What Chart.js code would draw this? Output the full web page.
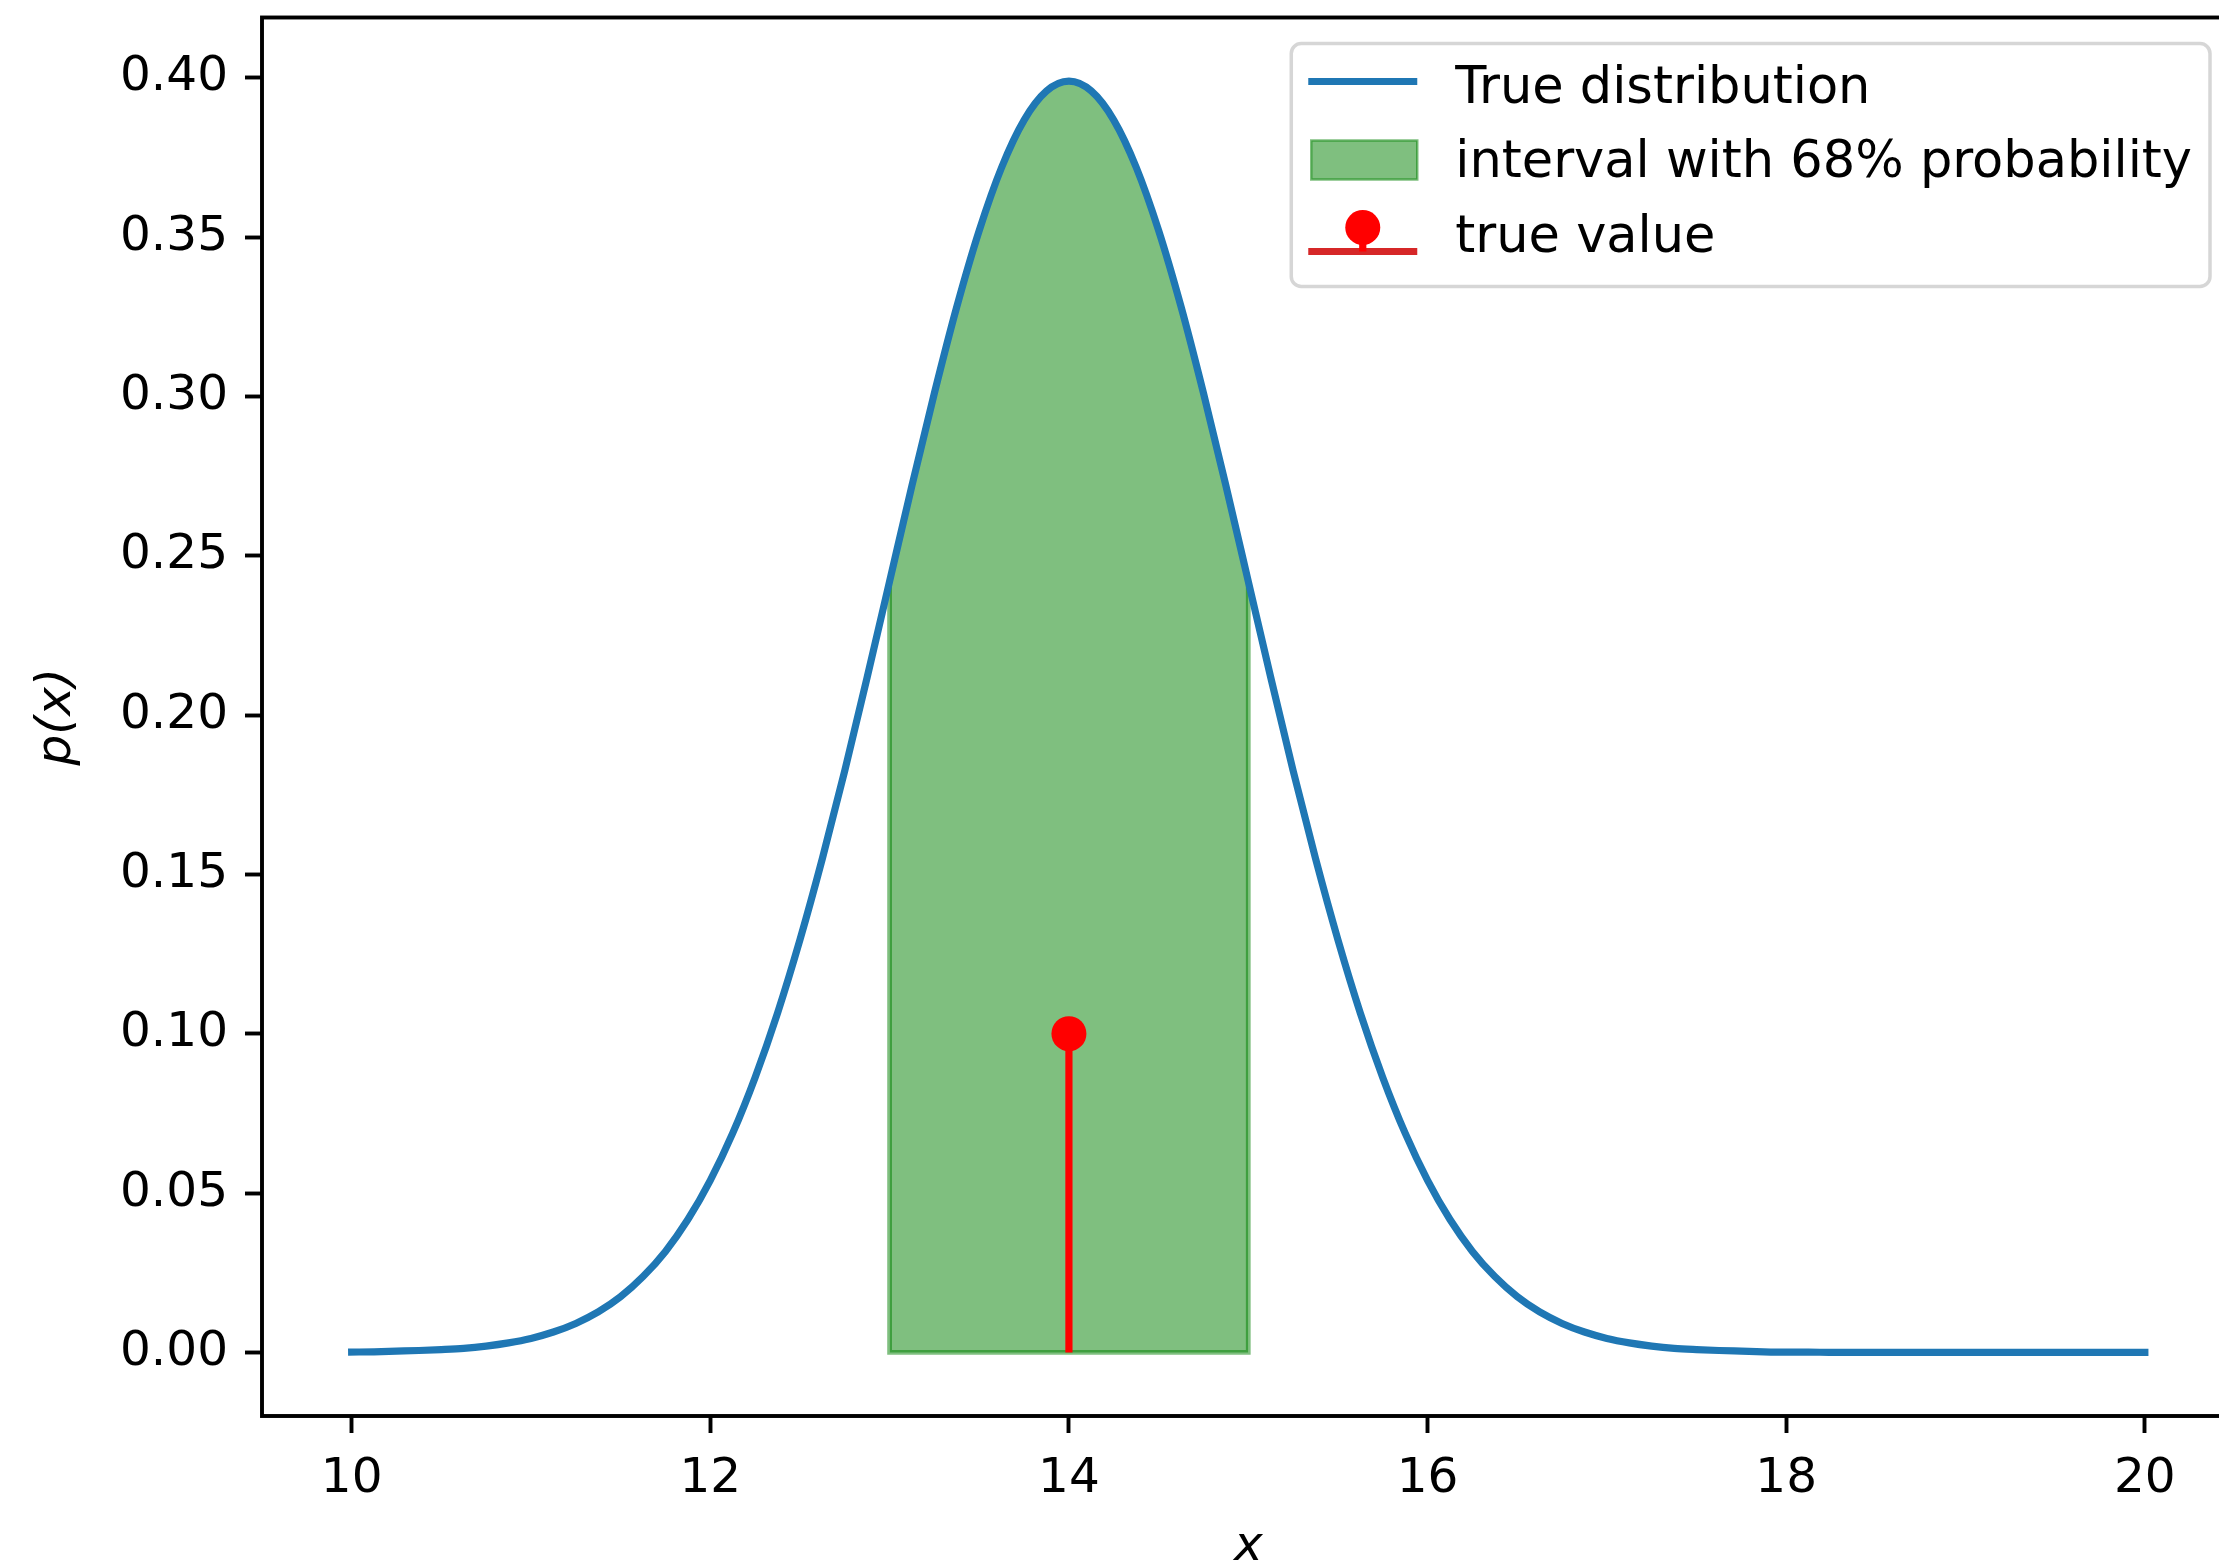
<!DOCTYPE html>
<html>
<head>
<meta charset="utf-8">
<script src="https://cdn.jsdelivr.net/npm/chart.js@4/dist/chart.umd.min.js"></script>
<style>
  html, body { margin: 0; padding: 0; overflow: hidden; background: #ffffff; }
  #wrap { position: relative; width: 2252px; height: 1572px; }
  canvas { display: block; }
</style>
</head>
<body>
<div id="wrap"><canvas id="chart" width="2252" height="1572"></canvas></div>
<script>
// Sample grid of the variable x
const xValues = [
  10, 10.125, 10.25, 10.375, 10.5, 10.625, 10.75, 10.875,
  11, 11.125, 11.25, 11.375, 11.5, 11.625, 11.75, 11.875,
  12, 12.125, 12.25, 12.375, 12.5, 12.625, 12.75, 12.875,
  13, 13.125, 13.25, 13.375, 13.5, 13.625, 13.75, 13.875,
  14, 14.125, 14.25, 14.375, 14.5, 14.625, 14.75, 14.875,
  15, 15.125, 15.25, 15.375, 15.5, 15.625, 15.75, 15.875,
  16, 16.125, 16.25, 16.375, 16.5, 16.625, 16.75, 16.875,
  17, 17.125, 17.25, 17.375, 17.5, 17.625, 17.75, 17.875,
  18, 18.125, 18.25, 18.375, 18.5, 18.625, 18.75, 18.875,
  19, 19.125, 19.25, 19.375, 19.5, 19.625, 19.75, 19.875,
  20
];

// Density p(x) of the true distribution at each x
const pdfValues = [
  0.0001, 0.0002, 0.0004, 0.0006, 0.0009, 0.0013, 0.0020, 0.0030,
  0.0044, 0.0064, 0.0091, 0.0127, 0.0175, 0.0238, 0.0317, 0.0417,
  0.0540, 0.0688, 0.0863, 0.1065, 0.1295, 0.1550, 0.1826, 0.2119,
  0.2420, 0.2721, 0.3011, 0.3282, 0.3521, 0.3719, 0.3867, 0.3958,
  0.3989, 0.3958, 0.3867, 0.3719, 0.3521, 0.3282, 0.3011, 0.2721,
  0.2420, 0.2119, 0.1826, 0.1550, 0.1295, 0.1065, 0.0863, 0.0688,
  0.0540, 0.0417, 0.0317, 0.0238, 0.0175, 0.0127, 0.0091, 0.0064,
  0.0044, 0.0030, 0.0020, 0.0013, 0.0009, 0.0006, 0.0004, 0.0002,
  0.0001, 0.0001, 0, 0, 0, 0, 0, 0,
  0, 0, 0, 0, 0, 0, 0, 0,
  0
];

// Interval holding 68% of the probability
const intervalBounds = [13, 15];

// Stem marking the true value
const trueValueX = [14];
const trueValueY = [0.1];

// Axis ranges and ticks
const xRange = [9.5, 20.5];
const yRange = [-0.019947, 0.418889];
const xTicks = [10, 12, 14, 16, 18, 20];
const yTicks = [0.00, 0.05, 0.10, 0.15, 0.20, 0.25, 0.30, 0.35, 0.40];

const legendLabels = ['True distribution', 'interval with 68% probability', 'true value'];
const axisTitles = { x: 'x', y: 'p(x)' };

const FONT = 'DejaVu Sans';
const FS = 48.5;
const LEGEND_FS = 51;
const LW = 7.2;

const curvePoints = xValues.map((x, i) => ({ x: x, y: pdfValues[i] }));
const inInterval = curvePoints.filter(p => p.x >= intervalBounds[0] && p.x <= intervalBounds[1]);
const firstIn = inInterval[0], lastIn = inInterval[inInterval.length - 1];
// outline of the interval: left side, base, right side
const intervalOutline = [
  { x: firstIn.x, y: firstIn.y }, { x: intervalBounds[0], y: 0 },
  { x: intervalBounds[1], y: 0 }, { x: lastIn.x, y: lastIn.y }
];
const stemPoints = [{ x: trueValueX[0], y: 0 }, { x: trueValueX[0], y: trueValueY[0] }];

// Axes frame drawn on top of the data
const framePlugin = {
  id: 'axesFrame',
  afterDatasetsDraw(chart) {
    const { ctx, chartArea: a } = chart;
    ctx.save();
    ctx.strokeStyle = '#000000';
    ctx.lineWidth = 3.9;
    ctx.lineJoin = 'miter';
    ctx.strokeRect(a.left, a.top, a.right - a.left, a.bottom - a.top);
    ctx.restore();
  }
};

function roundedRect(ctx, x, y, w, h, r) {
  ctx.beginPath();
  ctx.moveTo(x + r, y);
  ctx.lineTo(x + w - r, y);
  ctx.arcTo(x + w, y, x + w, y + r, r);
  ctx.lineTo(x + w, y + h - r);
  ctx.arcTo(x + w, y + h, x + w - r, y + h, r);
  ctx.lineTo(x + r, y + h);
  ctx.arcTo(x, y + h, x, y + h - r, r);
  ctx.lineTo(x, y + r);
  ctx.arcTo(x, y, x + r, y, r);
  ctx.closePath();
}

// Legend box in the upper right corner of the axes
const legendPlugin = {
  id: 'boxLegend',
  afterDraw(chart) {
    const { ctx, chartArea: a } = chart;
    ctx.save();
    ctx.font = LEGEND_FS + 'px "' + FONT + '"';
    const textW = Math.max(...legendLabels.map(t => ctx.measureText(t).width));
    const padL = 17, handleLen = 109, gap = 38, padR = 18;
    const w = padL + handleLen + gap + textW + padR;
    const h = 243;
    const x0 = a.right - 24.5 - w;
    const y0 = a.top + 26;

    roundedRect(ctx, x0, y0, w, h, 10);
    ctx.fillStyle = 'rgba(255,255,255,0.8)';
    ctx.fill();
    ctx.strokeStyle = 'rgba(204,204,204,0.8)';
    ctx.lineWidth = 3.5;
    ctx.stroke();

    const hx = x0 + padL;
    const tx = hx + handleLen + gap;
    const baselines = [y0 + 59, y0 + 133, y0 + 208];

    // line handle
    ctx.beginPath();
    ctx.moveTo(hx, baselines[0] - 21);
    ctx.lineTo(hx + handleLen, baselines[0] - 21);
    ctx.strokeStyle = '#1f77b4';
    ctx.lineWidth = LW;
    ctx.lineCap = 'butt';
    ctx.stroke();

    // patch handle
    const px = hx + 3, py = baselines[1] - 36, pw = handleLen - 3, ph = 39;
    ctx.fillStyle = 'rgba(0,128,0,0.5)';
    ctx.fillRect(px, py, pw, ph);
    ctx.strokeStyle = 'rgba(0,128,0,0.5)';
    ctx.lineWidth = 2.5;
    ctx.strokeRect(px, py, pw, ph);

    // stem handle
    const sb = baselines[2];
    const cx = hx + handleLen / 2;
    ctx.beginPath();
    ctx.moveTo(hx, sb);
    ctx.lineTo(hx + handleLen, sb);
    ctx.strokeStyle = '#d62728';
    ctx.lineWidth = LW;
    ctx.stroke();
    ctx.beginPath();
    ctx.moveTo(cx, sb);
    ctx.lineTo(cx, sb - 24);
    ctx.strokeStyle = '#ff0000';
    ctx.lineWidth = LW;
    ctx.stroke();
    ctx.beginPath();
    ctx.arc(cx, sb - 24, 17.5, 0, Math.PI * 2);
    ctx.fillStyle = '#ff0000';
    ctx.fill();

    // labels
    ctx.fillStyle = '#000000';
    ctx.textAlign = 'left';
    ctx.textBaseline = 'alphabetic';
    legendLabels.forEach((t, i) => ctx.fillText(t, tx, baselines[i]));
    ctx.restore();
  }
};

const tickFont = { family: FONT, size: FS };
const titleFont = { family: FONT, size: FS, style: 'italic', lineHeight: 1 };
const gridOpts = {
  drawOnChartArea: false,
  drawTicks: true,
  tickLength: 17,
  tickWidth: 3.9,
  tickColor: '#000000',
  color: 'rgba(0,0,0,0)'
};

new Chart(document.getElementById('chart'), {
  type: 'line',
  data: {
    datasets: [
      {
        label: legendLabels[0],
        data: curvePoints,
        borderColor: '#1f77b4',
        borderWidth: LW,
        borderCapStyle: 'square',
        borderJoinStyle: 'round',
        pointRadius: 0,
        fill: false,
        cubicInterpolationMode: 'monotone',
        order: 1
      },
      {
        label: legendLabels[1],
        data: inInterval,
        backgroundColor: 'rgba(0,128,0,0.5)',
        borderColor: 'rgba(0,128,0,0.5)',
        borderWidth: 4.8,
        pointRadius: 0,
        fill: 'origin',
        cubicInterpolationMode: 'monotone',
        order: 3
      },
      {
        label: '',
        data: intervalOutline,
        borderColor: 'rgba(0,128,0,0.5)',
        borderWidth: 4.8,
        pointRadius: 0,
        fill: false,
        tension: 0,
        order: 3
      },
      {
        label: legendLabels[2],
        data: stemPoints,
        borderColor: '#ff0000',
        borderWidth: LW,
        borderCapStyle: 'butt',
        pointRadius: ctx => (ctx.dataIndex === 1 ? 17.5 : 0),
        pointBackgroundColor: '#ff0000',
        pointBorderWidth: 0,
        fill: false,
        order: 0
      }
    ]
  },
  options: {
    responsive: false,
    maintainAspectRatio: false,
    animation: false,
    events: [],
    devicePixelRatio: 1,
    layout: { padding: { top: 17, right: 0, bottom: 0, left: 0 } },
    plugins: {
      legend: { display: false },
      tooltip: { enabled: false }
    },
    scales: {
      x: {
        type: 'linear',
        min: xRange[0],
        max: xRange[1],
        afterBuildTicks: s => { s.ticks = xTicks.map(v => ({ value: v })); },
        afterFit: s => { s.height = 156; s.paddingLeft = 0; s.paddingRight = 0; },
        ticks: { font: tickFont, color: '#000000', padding: 17, maxRotation: 0, callback: v => String(v) },
        grid: gridOpts,
        border: { display: false },
        title: { display: true, text: axisTitles.x, font: titleFont, color: '#000000', padding: 0 }
      },
      y: {
        type: 'linear',
        min: yRange[0],
        max: yRange[1],
        afterBuildTicks: s => { s.ticks = yTicks.map(v => ({ value: v })); },
        afterFit: s => { s.width = 262; s.paddingTop = 0; s.paddingBottom = 0; },
        ticks: { font: tickFont, color: '#000000', padding: 17, callback: v => Number(v).toFixed(2) },
        grid: gridOpts,
        border: { display: false },
        title: { display: true, text: axisTitles.y, font: titleFont, color: '#000000', padding: { top: 33, bottom: 0 } }
      }
    }
  },
  plugins: [framePlugin, legendPlugin]
});
</script>
</body>
</html>
